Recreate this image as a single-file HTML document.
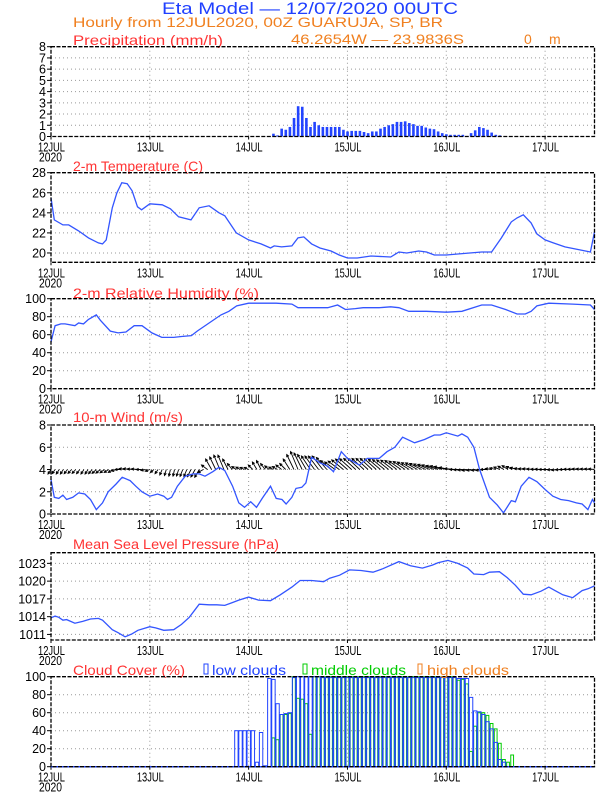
<!DOCTYPE html>
<html><head><meta charset="utf-8">
<style>
html,body{margin:0;padding:0;background:#fff;}
svg{display:block;}
text{font-family:"Liberation Sans",sans-serif;}
</style></head>
<body>
<svg id="chart" width="612" height="792" viewBox="0 0 612 792" xmlns="http://www.w3.org/2000/svg">
<rect x="0" y="0" width="612" height="792" fill="#fff"/>
<text x="162" y="14" font-size="17" fill="#2040ff" textLength="296" lengthAdjust="spacingAndGlyphs">Eta Model — 12/07/2020 00UTC</text>
<text x="73" y="27" font-size="14" fill="#f08020" textLength="370" lengthAdjust="spacingAndGlyphs">Hourly from 12JUL2020, 00Z  GUARUJA, SP, BR</text>
<text x="291" y="44" font-size="14" fill="#f08020" textLength="173" lengthAdjust="spacingAndGlyphs">46.2654W — 23.9836S</text>
<text x="524" y="44" font-size="14" fill="#f08020">0</text>
<text x="549" y="44" font-size="14" fill="#f08020">m</text>
<g id="plots"></g>
</svg>
<script>
// ---- data ----
const dayLabels = ["12JUL","13JUL","14JUL","15JUL","16JUL","17JUL"];
const precipStart = 54;
const precipVals = [0.25,0.1,0.7,0.6,0.85,1.65,2.7,2.65,1.65,0.85,1.3,1.0,0.85,0.85,0.85,0.85,0.85,0.6,0.45,0.5,0.5,0.5,0.4,0.3,0.45,0.45,0.7,0.85,1.0,1.1,1.3,1.3,1.35,1.2,1.1,0.95,0.95,0.8,0.7,0.65,0.45,0.3,0.2,0.15,0.15,0.15,0.15,0.05,0.3,0.55,0.85,0.75,0.6,0.35,0.15,0.1];
const tempHours = [0,0.8,2.9,4.3,6.7,9.1,11.5,12.5,13.4,14.9,16,17.2,18.5,19.7,21,22,24,27,29,31,34,36,38.4,40.8,42.2,45,48,51,53.3,54.2,56,58.5,60,61.4,63.3,65.3,68,70,72,74.4,77.7,82.5,84.5,86.4,89.3,91.2,93.1,96,98.8,101.7,104.6,107,109.4,111.8,113.2,114.7,116.6,118,120,122,124.8,128.6,131,132];
const tempVals = [25.5,23.3,22.8,22.8,22.2,21.5,21.0,20.9,21.3,24.5,26.0,27.0,26.9,26.2,24.6,24.3,24.9,24.8,24.4,23.6,23.3,24.5,24.7,24.0,23.7,22.0,21.3,20.9,20.5,20.7,20.6,20.7,21.5,21.6,20.9,20.5,20.2,19.8,19.5,19.5,19.7,19.6,20.1,20.0,20.2,20.1,19.8,19.8,19.9,20.0,20.1,20.1,21.5,23.1,23.5,23.8,23.0,21.9,21.3,21.0,20.6,20.3,20.1,22.1];
const rhHours = [0,1,2.4,3.4,5.8,6.7,7.9,9.1,11,12,14.4,16.3,18.2,20.2,22.1,24.5,26.9,29.8,31.7,34.1,35.5,38.4,41.3,43.2,45.1,48,54.7,58.5,60,64.3,67.2,69.6,71.5,73.9,75.8,79.7,82.5,84.5,86.9,91.2,96,99.8,104.6,107,110.4,113.2,115.2,116.6,118,120.9,126.7,131,132];
const rhVals = [52,70,72,72,70,73,72,77,82,76,64,62,63,70,70,62,57,57,58,59,64,73,82,86,92,95,95,94,90,90,90,93,88,89,90,90,91,90,86,86,85,86,93,93,88,83,83,86,92,95,94,93,88];
const windHours = [0,0.8,1.9,2.9,3.8,5.3,6.7,8.2,9.6,11,12.5,13.9,15.8,17.3,19.2,20.6,22.1,24,25.9,27.4,28.3,29.3,30.7,32.6,34.5,36,37.4,39.3,40.8,42.2,44.1,45.6,47,48.5,49.9,51.3,53.3,54.7,56.1,57.1,58.5,59.5,60.9,61.9,63.3,65.3,67.2,68.6,70.5,72,73.9,74.9,76.8,79.7,81.6,83.5,85.4,88.3,90.7,93.1,94.5,96,98.8,99.8,101.2,102.7,104.1,106.5,108.4,109.9,111.8,112.8,114.2,116.1,118,120,121.9,123.8,125.7,127.6,129,130.4,131.5,132];
const windVals = [3.1,1.5,1.4,1.7,1.3,1.5,1.9,1.8,1.3,0.4,1.0,2.0,2.7,3.3,3.0,2.5,2.0,1.6,1.8,1.6,1.3,1.5,2.5,3.4,3.6,3.6,3.4,3.8,4.2,3.9,2.5,1.0,0.6,1.1,0.6,1.4,2.5,1.4,1.3,0.9,1.5,2.3,2.4,2.8,5.1,4.6,4.3,3.8,5.6,5.0,4.6,4.4,5.0,5.0,5.6,6.0,6.9,6.4,6.7,7.1,7.1,7.3,7.0,7.2,6.9,6.0,4.0,1.5,0.8,0.1,1.2,1.1,2.5,3.3,2.9,2.2,1.6,1.3,1.2,1.0,0.9,0.4,1.3,1.0];
// hourly wind components (h = 0..132)
const windU = [-1,-1,-1, -1,-1.1,-1.2, -1.2,-1.1,-1, -1,-1.2,-1.4, -1.5,-1.5,-1.5, -1.5,-1.8,-2, -2,-2,-2, -2,-1.8,-1.6,
 -1.5,-1.2,-1, -0.8,-0.6,-0.5, -0.5,-0.7,-0.9, -1,-1.2,-1.4, -1.5,-1.8,-2, -2,-2,-2, -2,-1.8,-1.6, -1.5,-1.5,-1.5,
 -1.5,-1.5,-1.5, -1.5,-1.5,-1.5, -1.5,-1.7,-1.9, -2,-2.2,-2.4, -2.5,-2.7,-2.9, -3,-3.2,-3.4, -3.5,-3.5,-3.5, -3.5,-3.7,-3.9,
 -4,-4,-4, -4,-4,-4, -4,-4,-4, -4,-4,-4, -4,-4,-4, -4,-4,-4, -4,-4,-4, -4,-4,-4, -4,-3.7,-3.3,
 -3,-3,-3, -3,-2.8,-2.6, -2.5,-2.3,-2.1, -2,-2,-2, -2,-2,-2, -2,-2,-2, -2,-2,-2, -2,-2,-2, -2,-2,-2, -2,-2,-2, -2,-2,-2, -2];
const windV = [-1.5,-1.4,-1.5, -1.5,-1.4,-1.3, -1.3,-1.4,-1.5, -1.5,-1.4,-1.3, -1.2,-1.1,-1, -1,-0.5,0, 0.3,0.3,0.2, 0.2,0,-0.3,
 -0.6,-1,-1.4, -1.8,-2,-2.2, -2.2,-2.2,-2.3, -2.3,-2.4,-2.5, -2.6,-1,1.5, 3.5,4.2,4.8, 4.8,3.5,2, 1,0.8,0.7,
 0.7,1.5,2.5, 3,2,1.2, 0.8,1,1.5, 2,3.5,5, 6,5.5,5, 4.5,4.5,4.5, 4.5,4,3, 2.5,2.8,3.2,
 3.5,3.6,3.7, 3.7,3.7,3.7, 3.7,3.6,3.4, 3.3,3.2,3.1, 3,2.8,2.7, 2.5,2.3,2.2, 2,1.8,1.7, 1.5,1.3,1.2, 1,0.7,0.3,
 0,-0.1,-0.2, -0.3,-0.3,-0.3, -0.3,0,0.3, 0.5,0.8,1.1, 1.3,1,0.7, 0.4,0.3,0.3, 0.2,0.1,0.1, 0,0,-0.1, -0.2,-0.1,0, 0.1,0.1,0.2, 0.2,0.2,0.2, 0.2];
const presHours = [0,1,1.9,2.9,3.8,5.8,7.7,9.6,11.5,12.5,14.9,16.3,18,19.7,21.1,24,25.4,27.4,29.8,31.7,33.6,36,38.4,40.3,42.2,44.1,45.6,48,50.4,53.3,55.7,58.5,60.5,63.3,66.2,67.7,70.1,72.5,75.3,78.2,80.6,84.5,87.3,90.2,92.6,94,96.4,98.8,101.2,102.7,105.1,106.5,108.9,110.8,112.8,114.7,116.6,119,120.9,122.4,124.3,126.7,129,130.4,132];
const presVals = [1013.8,1014.1,1013.9,1013.4,1013.5,1012.9,1013.2,1013.6,1013.7,1013.4,1011.8,1011.3,1010.6,1011.1,1011.7,1012.3,1012.1,1011.7,1011.8,1012.7,1013.9,1016.1,1016.0,1016.0,1015.9,1016.4,1016.8,1017.3,1016.8,1016.7,1017.7,1019.0,1020.1,1020.1,1019.9,1020.5,1021.0,1021.9,1021.8,1021.5,1022.1,1023.3,1022.6,1022.2,1022.7,1023.1,1023.5,1023.0,1022.2,1021.2,1021.1,1021.5,1021.6,1020.6,1019.3,1017.8,1017.7,1018.3,1019.0,1018.4,1017.7,1017.2,1018.4,1018.7,1019.2];
const lowStart = 45;
const lowVals = [40,40,40,40,40,5,38,1,98,97,70,58,59,60,
 99,100,100,100,100,100,100,99,99,99,99,99,99,99,99,99,99,99,99,99,99,99,99,99,99,99,99,99,99,99,99,99,99,99,99,99,99,99,99,99,
 98,98,98,77,62,61,58,50,42,27,8,5];
const midStart = 53;
const midVals = [0,32,30,58,58,59,100,76,75,70,36,
 100,100,100,100,100,100,100,100,100,100,100,100,100,100,100,100,100,100,100,100,100,100,100,100,100,100,100,100,100,100,100,100,100,100,100,
 96,97,92,17,45,60,60,57,48,42,26,8,5,13];

// ---- layout ----
const X0 = 51, X1 = 594.5, HMAX = 132;
function xs(h){ return X0 + h*(X1-X0)/HMAX; }
const NS = "http://www.w3.org/2000/svg";
const root = document.getElementById("plots");
function el(tag, attrs, parent){
  const e = document.createElementNS(NS, tag);
  for (const k in attrs) e.setAttribute(k, attrs[k]);
  (parent||root).appendChild(e);
  return e;
}
function yScale(p){ return v => p.bot - (v - p.min)*(p.bot - p.top)/(p.max - p.min); }

function panel(p){
  const g = el("g", {});
  
  
  const ys = yScale(p);
  for (let d = 1; d <= 5; d++){
    const ln = el("line", {x1:xs(d*24), x2:xs(d*24), y1:p.top, y2:p.bot, stroke:"#999", "stroke-width":1, "stroke-dasharray":"1,3"}, g);
    
    
  }
  p.ticks.forEach(t => {
    const y = ys(t);
    if (t !== p.min && Math.abs(y-p.top) > 1) {
      const ln = el("line", {x1:X0, x2:X1, y1:y, y2:y, stroke:"#999", "stroke-width":1, "stroke-dasharray":"1,3"}, g);
      
      
    }
    const tk = el("line", {x1:X0-4, x2:X0, y1:y, y2:y, stroke:"#000", "stroke-width":1}, g);
    
    
    const tx = el("text", {x:X0-5, y:y+4.5, "font-size":12.5, "text-anchor":"end", fill:"#000"}, g);
    
    
    tx.textContent = String(t);
  });
  dayLabels.forEach((lab, i) => {
    const x = xs(i*24);
    const tk = el("line", {x1:x, x2:x, y1:p.bot, y2:p.bot+3, stroke:"#000", "stroke-width":1}, g);
    
    
    const tx = el("text", {x:x-13, y:p.bot+15, "font-size":12.5, fill:"#000", textLength:27, lengthAdjust:"spacingAndGlyphs"}, g);
    
    
    tx.textContent = lab;
  });
  const yr = el("text", {x:39, y:p.bot+25, "font-size":12.5, fill:"#000", textLength:23, lengthAdjust:"spacingAndGlyphs"}, g);
  
  
  yr.textContent = "2020";
  if (p.title) {
    const tt = el("text", {x:73, y:p.titleY, "font-size":14, fill:"#ff3333", textLength:p.titleW, lengthAdjust:"spacingAndGlyphs"}, g);
    
    
    tt.textContent = p.title;
  }
  return {g, ys};
}
function frame(p, g){
  const f = el("rect", {x:X0, y:p.top, width:X1-X0, height:p.bot-p.top, fill:"none", stroke:"#000", "stroke-width":1.3, "stroke-dasharray":"4,1.5"}, g);
  
  
}
function line(hours, vals, ys, g, name){
  const pts = hours.map((h,i) => xs(h).toFixed(1)+","+ys(vals[i]).toFixed(1)).join(" ");
  const pl = el("polyline", {points:pts, fill:"none", stroke:"#3355ff", "stroke-width":1.3}, g);
  
  
}

// Precipitation
const pP = {name:"precipitation", top:46.7, bot:136.5, min:0, max:8, ticks:[0,1,2,3,4,5,6,7,8], title:"Precipitation (mm/h)", titleY:45, titleW:150};
let r = panel(pP);
precipVals.forEach((v,i) => {
  const h = precipStart + i;
  const y = r.ys(v);
  const b = el("rect", {x:xs(h)-1.2, y:y, width:2.6, height:pP.bot-y, fill:"#2244ff"}, r.g);
  
  
});
frame(pP, r.g);

// Temperature
const pT = {name:"temperature", top:172.7, bot:262.3, min:19.07, max:28, ticks:[20,22,24,26,28], title:"2-m Temperature (C)", titleY:171, titleW:130};
r = panel(pT);
line(tempHours, tempVals, r.ys, r.g, "temperature-line");
frame(pT, r.g);

// RH
const pR = {name:"humidity", top:298.7, bot:388.7, min:0, max:100, ticks:[0,20,40,60,80,100], title:"2-m Relative Humidity (%)", titleY:298, titleW:186};
r = panel(pR);
line(rhHours, rhVals, r.ys, r.g, "humidity-line");
frame(pR, r.g);

// Wind
const pW = {name:"wind", top:425, bot:514, min:0, max:8, ticks:[0,2,4,6,8], title:"10-m Wind (m/s)", titleY:422, titleW:110};
r = panel(pW);
windU.forEach((u,i) => {
  const h = i;
  const x0 = xs(h), y0 = r.ys(4);
  const x1 = x0 + u*3, y1 = y0 - windV[i]*3;
  const len = Math.hypot(x1-x0, y1-y0) || 1;
  const ux = (x1-x0)/len, uy = (y1-y0)/len;
  const hl = 2.5;
  const a1x = x1 - hl*ux - hl*0.5*uy, a1y = y1 - hl*uy + hl*0.5*ux;
  const a2x = x1 - hl*ux + hl*0.5*uy, a2y = y1 - hl*uy - hl*0.5*ux;
  const a = el("path", {d:`M${x0},${y0}L${x1},${y1}M${a1x},${a1y}L${x1},${y1}L${a2x},${a2y}`, fill:"none", stroke:"#000", "stroke-width":0.9}, r.g);
  
  
});
line(windHours, windVals, r.ys, r.g, "wind-speed-line");
frame(pW, r.g);

// Pressure
const pS = {name:"pressure", top:552.7, bot:640, min:1010.06, max:1024.8, ticks:[1011,1014,1017,1020,1023], title:"Mean Sea Level Pressure (hPa)", titleY:549, titleW:206};
r = panel(pS);
line(presHours, presVals, r.ys, r.g, "pressure-line");
frame(pS, r.g);

// Cloud
const pC = {name:"cloud", top:676.7, bot:766.7, min:0, max:100, ticks:[0,20,40,60,80,100], title:"Cloud Cover (%)", titleY:675, titleW:112};
r = panel(pC);
midVals.forEach((v,i) => {
  if (v <= 0) return;
  const h = midStart + i; const y = r.ys(v);
  const b = el("rect", {x:xs(h)-1.4, y:y, width:2.8, height:pC.bot-y, fill:"none", stroke:"#00cc00", "stroke-width":1}, r.g);
  
  
});
lowVals.forEach((v,i) => {
  if (v <= 0) return;
  const h = lowStart + i; const y = r.ys(v);
  const b = el("rect", {x:xs(h)-1.6, y:y, width:3.4, height:pC.bot-y, fill:"none", stroke:"#2244ff", "stroke-width":1}, r.g);
  
  
});
const bl = el("line", {x1:X0, x2:X1, y1:pC.bot, y2:pC.bot, stroke:"#2244ff", "stroke-width":1.5}, r.g);


frame(pC, r.g);
const legend = [["low clouds","#2244ff",204,212,74],["middle clouds","#00cc00",303,311,95],["high clouds","#f08020",418,427,82]];
legend.forEach(L => {
  const s = el("rect", {x:L[2], y:664, width:4, height:10, fill:"none", stroke:L[1], "stroke-width":1});
  
  
  const t = el("text", {x:L[3], y:675, "font-size":14, fill:L[1], textLength:L[4], lengthAdjust:"spacingAndGlyphs"});
  
  
  t.textContent = L[0];
});
</script>
</body></html>
